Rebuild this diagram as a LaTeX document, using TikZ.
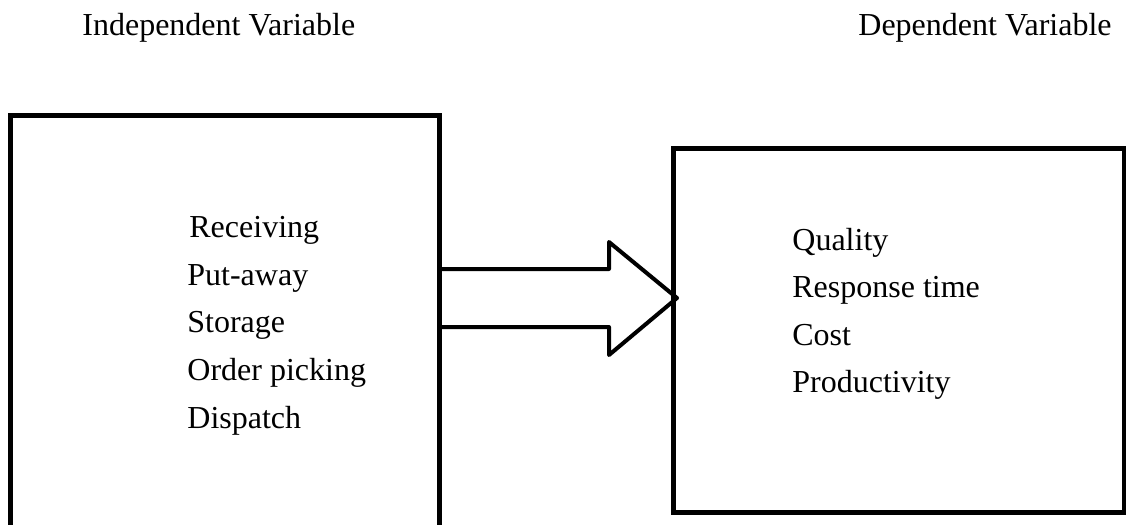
\documentclass[tikz,border=0pt]{standalone}
\usepackage{fontspec}
\setmainfont{Liberation Serif}
\begin{document}
\begin{tikzpicture}[x=0.5pt, y=-0.5pt,
    every node/.style={font=\fontsize{16}{19}\selectfont, inner sep=0pt},
    heading/.style={anchor=base west},
    item/.style={anchor=base west},
    panel/.style={rectangle, draw, line width=2.5pt},
    bigarrow/.style={line width=2pt, line join=round}]
  % page of 1126 x 525 units, cut at its lower edge
  \clip (0,0) rectangle (1126,525);

  % the two headings
  \node[heading] (indeptitle) at (82,35)  {Independent Variable};
  \node[heading] (deptitle)   at (858,35) {Dependent Variable};

  % the two boxes; the left one runs past the lower edge of the page
  \node[panel, minimum width=214.5pt, minimum height=212.5pt] (indep) at (225,327.5) {};
  \node[panel, minimum width=225.25pt, minimum height=182pt]  (dep)   at (898.75,330) {};

  % what goes in and what comes out
  \foreach \n/\x/\y/\t in {rec/189/237/Receiving, put/187/285/Put-away, sto/187/332/Storage,
                          pick/187/380/Order picking, dis/187/428/Dispatch}
    \node[item] (\n) at (\x,\y) {\t};
  \foreach \n/\y/\t in {qual/250/Quality, resp/297/Response time, cost/345/Cost,
                       prod/392/Productivity}
    \node[item] (\n) at (792,\y) {\t};

  % block arrow from the left box to the right one
  \coordinate (tip) at (677,298);
  \draw[bigarrow] (indep.east |- 0,269) -- (609,269) -- (609,242) -- (tip)
                  -- (609,355) -- (609,327) -- (indep.east |- 0,327);
\end{tikzpicture}
\end{document}
